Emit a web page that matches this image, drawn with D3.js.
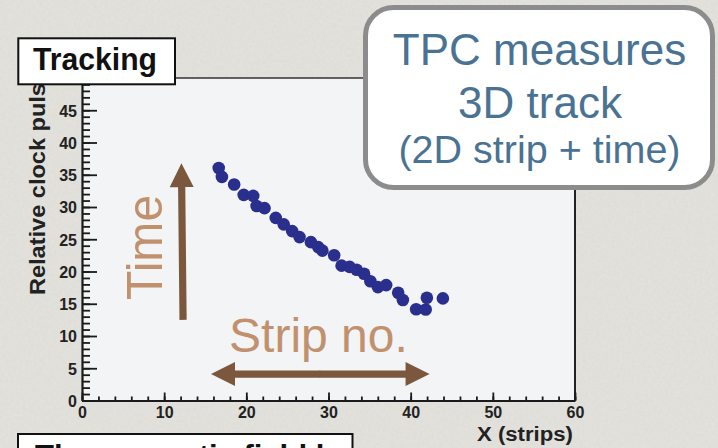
<!DOCTYPE html>
<html><head><meta charset="utf-8">
<script src="https://cdn.jsdelivr.net/npm/d3@7"></script>
<style>
body{margin:0;background:#e4e3de;}
svg{display:block;font-family:"Liberation Sans",Arial,Helvetica,sans-serif;}
</style>
</head><body>
<svg id="c" width="718" height="448"></svg>
<script>
// ---- data ----
const stripX = [16.64,17.03,18.52,19.68,20.84,21.25,22.21,23.58,24.55,25.58,26.48,27.86,28.75,29.26,30.69,31.59,32.57,33.42,34.33,35.10,36.01,37.02,38.48,39.05,40.67,41.83,41.97,43.92];
const clockY = [36.04,34.67,33.50,31.88,31.72,30.16,29.82,28.31,27.31,26.26,25.33,24.55,23.78,23.23,22.51,20.91,20.72,20.26,19.64,18.48,17.58,17.89,16.70,15.57,14.14,14.10,15.92,15.83];
const xTicks = [0,10,20,30,40,50,60];
const yTicks = [0,5,10,15,20,25,30,35,40,45];
const xMinor = d3.range(0,61,2);
const yMinor = d3.range(0,51,1);
const titleText = "Tracking";
const xTitle = "X (strips)";
const yTitle = "Relative clock pulse";
const boxLines = ["TPC measures","3D track","(2D strip + time)"];
const bottomText = "The magnetic field bends the track";

// ---- layout ----
const svg = d3.select("#c");
const defs = svg.append("defs");
const f = defs.append("filter").attr("id","noise").attr("x",0).attr("y",0).attr("width","100%").attr("height","100%");
f.append("feTurbulence").attr("type","fractalNoise").attr("baseFrequency",0.35).attr("numOctaves",2).attr("seed",3);
f.append("feColorMatrix").attr("type","matrix")
  .attr("values","0 0 0 0 0.5  0 0 0 0 0.5  0 0 0 0 0.48  0 0 0 0.18 0");
svg.append("rect").attr("width",718).attr("height",448).attr("fill","#e4e3de");
svg.append("rect").attr("width",718).attr("height",448).attr("filter","url(#noise)");

const L=82, R=575, T=78, B=400.5;
const x = d3.scaleLinear().domain([0,60]).range([L,R]);
const y = d3.scaleLinear().domain([0,50]).range([B,T]);

svg.append("rect").attr("x",L).attr("y",T).attr("width",R-L).attr("height",B-T).attr("fill","#f3f4f6");
svg.append("line").attr("x1",L).attr("x2",R).attr("y1",T).attr("y2",T).attr("stroke","#333").attr("stroke-width",1.5);
svg.append("line").attr("x1",R).attr("x2",R).attr("y1",T).attr("y2",B).attr("stroke","#222").attr("stroke-width",2);

// minor ticks
svg.append("g").attr("transform",`translate(0,${B})`)
  .call(d3.axisBottom(x).tickValues(xMinor).tickSize(-4).tickSizeOuter(0).tickFormat(""))
  .call(g=>g.select(".domain").remove())
  .selectAll("line").attr("stroke","#1a1a1a").attr("stroke-width",1.8);
svg.append("g").attr("transform",`translate(${L},0)`)
  .call(d3.axisLeft(y).tickValues(yMinor).tickSize(-8).tickSizeOuter(0).tickFormat(""))
  .call(g=>g.select(".domain").remove())
  .selectAll("line").attr("stroke","#1a1a1a").attr("stroke-width",1.8);

// major axes
const xa = svg.append("g").attr("transform",`translate(0,${B})`)
  .call(d3.axisBottom(x).tickValues(xTicks).tickSize(-8).tickSizeOuter(0).tickPadding(6));
const ya = svg.append("g").attr("transform",`translate(${L},0)`)
  .call(d3.axisLeft(y).tickValues(yTicks).tickSize(-15).tickSizeOuter(0).tickPadding(5));
[xa,ya].forEach(a=>{
  a.select(".domain").attr("stroke","#1a1a1a").attr("stroke-width",2.2);
  a.selectAll(".tick line").attr("stroke","#1a1a1a").attr("stroke-width",1.8);
  a.selectAll(".tick text").attr("font-size",16).attr("font-weight","bold").attr("fill","#222")
   .attr("font-family","Liberation Sans, Arial, sans-serif");
});
ya.selectAll(".tick text").attr("dy","0.36em");

// points
svg.append("g").selectAll("circle").data(stripX.map((v,i)=>[v,clockY[i]])).join("circle")
  .attr("cx",d=>x(d[0])).attr("cy",d=>y(d[1])).attr("r",6.3).attr("fill","#2a2e8c");

// annotation arrows (in data coordinates)
const brown="#7b573d", tan="#c1916e";
function arrow(x1,y1,x2,y2){
  const p1=[x(x1),y(y1)], p2=[x(x2),y(y2)];
  const dx=p2[0]-p1[0], dy=p2[1]-p1[1], len=Math.hypot(dx,dy);
  const ux=dx/len, uy=dy/len, nx=-uy, ny=ux;
  const hl=24, hw=12, sw=3.6;
  const b=[p2[0]-ux*hl,p2[1]-uy*hl];
  return [[p1[0]+nx*sw,p1[1]+ny*sw],[b[0]+nx*sw,b[1]+ny*sw],[b[0]+nx*hw,b[1]+ny*hw],p2,
          [b[0]-nx*hw,b[1]-ny*hw],[b[0]-nx*sw,b[1]-ny*sw],[p1[0]-nx*sw,p1[1]-ny*sw]];
}
svg.append("path").attr("d","M"+arrow(12.3,12.5,12.1,36.8).join("L")+"Z").attr("fill",brown);
svg.append("path").attr("d","M"+arrow(29,4.1,15.7,4.1).join("L")+"Z").attr("fill",brown);
svg.append("path").attr("d","M"+arrow(28.9,4.1,42.3,4.1).join("L")+"Z").attr("fill",brown);

svg.append("text").attr("transform",`translate(${x(9.75)},${y(15.6)}) rotate(-90)`)
  .attr("font-size",50).attr("fill",tan).attr("textLength",105).attr("lengthAdjust","spacingAndGlyphs").text("Time");
svg.append("text").attr("x",x(17.9)).attr("y",y(7.5))
  .attr("font-size",48).attr("fill",tan).text("Strip no.");

// axis titles
svg.append("text").attr("x",573).attr("y",441).attr("text-anchor","end")
  .attr("font-size",20).attr("font-weight","bold").attr("fill","#222")
  .attr("textLength",96).attr("lengthAdjust","spacingAndGlyphs").text(xTitle);
svg.append("text").attr("transform","translate(45,295) rotate(-90)")
  .attr("font-size",22).attr("font-weight","bold").attr("fill","#222")
  .attr("textLength",225).attr("lengthAdjust","spacingAndGlyphs").text(yTitle);

// Tracking box
svg.append("rect").attr("x",18.3).attr("y",38.3).attr("width",156.7).attr("height",46)
  .attr("fill","#fff").attr("stroke","#111").attr("stroke-width",2);
svg.append("text").attr("x",33).attr("y",70).attr("font-size",31).attr("font-weight","bold").attr("fill","#111")
  .attr("textLength",124).attr("lengthAdjust","spacingAndGlyphs").text(titleText);

// TPC box
svg.append("rect").attr("x",365.5).attr("y",7.5).attr("width",347).attr("height",180).attr("rx",28)
  .attr("fill","#fff").attr("stroke","#8c8c8c").attr("stroke-width",5);
const bt = svg.append("g").attr("fill","#4a7393").attr("text-anchor","middle");
bt.append("text").attr("x",539.5).attr("y",65).attr("font-size",44).text(boxLines[0]);
bt.append("text").attr("x",540).attr("y",118).attr("font-size",44).text(boxLines[1]);
bt.append("text").attr("x",539.5).attr("y",163).attr("font-size",39.5).text(boxLines[2]);

// bottom box (cut off by the page edge, as in the reference)
svg.append("clipPath").attr("id","bb").append("rect").attr("x",18).attr("y",434).attr("width",334).attr("height",40);
svg.append("rect").attr("x",18).attr("y",434).attr("width",334.5).attr("height",40)
  .attr("fill","#fff").attr("stroke","#111").attr("stroke-width",2);
svg.append("text").attr("clip-path","url(#bb)").attr("x",35).attr("y",467).attr("font-size",31)
  .attr("font-weight","bold").attr("fill","#111").text(bottomText);
</script>
</body></html>
